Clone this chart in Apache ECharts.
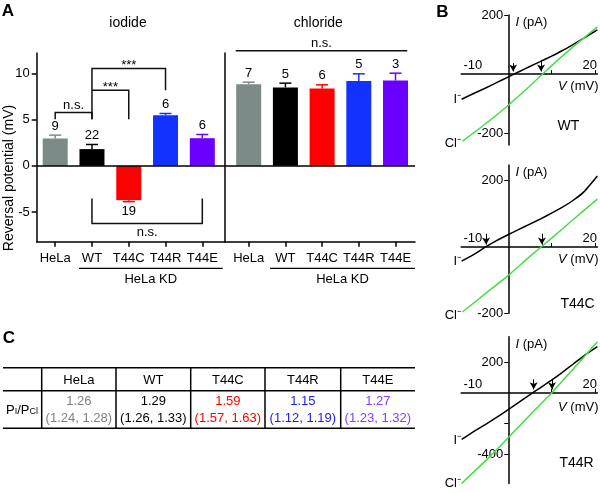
<!DOCTYPE html>
<html>
<head>
<meta charset="utf-8">
<script src="https://cdn.jsdelivr.net/npm/echarts@6/dist/echarts.min.js"></script>
<style>html,body{margin:0;padding:0;background:#fff;}#c{width:600px;height:493px;}</style>
</head>
<body>
<div id="c"></div>
<script>
// ---------- data ----------
const categories = ['HeLa', 'WT', 'T44C', 'T44R', 'T44E'];
const iodideMean = [2.96, 1.81, -3.71, 5.48, 2.99];
const iodideErr = [0.36, 0.50, 0.16, 0.18, 0.40];
const iodideN = [9, 22, 19, 6, 6];
const chlorideMean = [8.83, 8.48, 8.37, 9.16, 9.23];
const chlorideErr = [0.22, 0.46, 0.39, 0.79, 0.79];
const chlorideN = [7, 5, 6, 5, 3];
const yTicksA = [-5, 0, 5, 10];

// significance brackets: [fromIndex, toIndex, lineY, leftLegY, rightLegY, text]
const iodideBrackets = [
  [0, 1, 5.77, 5.05, 5.05, 'n.s.'],
  [1, 2, 8.18, 5.05, 5.05, '***'],
  [1, 3, 10.53, 8.18, 8.18, '***'],
  [1, 4, -6.23, -3.52, -3.52, 'n.s.']
];
const chlorideBrackets = [
  [-0.354, 4.32, 12.43, 12.43, 12.43, 'n.s.']
];

// I-V traces [V (mV), I (pA)]
const wtIodide = [[-10.5,-85],[-7.5,-64],[-5,-47],[-2.5,-29],[0,-11],[2.5,7],[5,25],[7.5,42],[10,60],[12.5,79],[15,100],[17.5,122],[20.6,150]];
const wtChloride = [[-10.3,-227],[-5,-168],[0,-108],[5,-42],[10,27],[15,92],[20.6,160]];
const t44cIodide = [[-10.5,-43],[-7.5,-21],[-5,0],[-2.5,19],[0,36],[2.5,52],[5,68],[7.5,84],[10,101],[12.5,119],[15,140],[17.5,166],[20.6,214]];
const t44cChloride = [[-10.3,-196],[-5,-140],[0,-88],[5,-30],[10,25],[15,82],[20.6,144]];
const t44rIodide = [[-10.5,-303],[-7.5,-248],[-5,-205],[-2.5,-160],[0,-113],[2.5,-64],[5,-15],[7.5,32],[10,80],[12.5,131],[15,185],[17.5,240],[20.6,299]];
const t44rChloride = [[-10.5,-589],[-5,-441],[0,-297],[5,-149],[10,-5],[15,152],[20.6,331]];
// reversal arrows [V, from I, to I]
const wtArrows = [[1.3, 37, 9], [7.7, 48, 9]];
const t44cArrows = [[-4.9, 40, 7], [7.9, 40, 7]];
const t44rArrows = [[6.0, 87, 22], [10.2, 87, 22]];
const ivYTicks = [[-200, 200], [-200, 200], [-400, -200, 200]];
const ivYLabels = [[-200, 200], [-200, 200], [-400, 200]];
const ivXLabels = [-10, 20];
const ivXTicks = [10, 20];

// table C
const tableHeads = ['HeLa', 'WT', 'T44C', 'T44R', 'T44E'];
const ratioValue = [1.26, 1.29, 1.59, 1.15, 1.27];
const ratioLow = [1.24, 1.26, 1.57, 1.12, 1.23];
const ratioHigh = [1.28, 1.33, 1.63, 1.19, 1.32];

// ---------- styles ----------
const FONT = '"Liberation Sans", Arial, Helvetica, sans-serif';
const barColors = ['#7c8a88', '#000000', '#ff0000', '#1432ff', '#6a00ff'];
const tableColors = ['#808080', '#000000', '#ff0000', '#2020ee', '#7f40ff'];
const GREEN = '#44dd44';

const chart = echarts.init(document.getElementById('c'), null, {renderer: 'canvas'});

function txt(text, x, y, extra, rot) {
  const st = Object.assign({text: text, fontSize: 13, fontFamily: FONT, fill: '#000',
    align: 'center', verticalAlign: 'middle', textAlign: 'center', textVerticalAlign: 'middle'}, extra || {});
  const e = {type: 'text', x: x, y: y, silent: true, style: st};
  if (rot) e.rotation = rot;
  return e;
}
function ln(x1, y1, x2, y2, w) {
  return {type: 'line', silent: true, shape: {x1: x1, y1: y1, x2: x2, y2: y2}, style: {stroke: '#000', lineWidth: w || 1.5}};
}

function barSeries(idx, means) {
  return {
    type: 'bar', xAxisIndex: idx, yAxisIndex: idx, barWidth: 25,
    data: means.map((v, i) => ({value: [i, v], itemStyle: {color: barColors[i]}})),
    markLine: {silent: true, symbol: 'none', label: {show: false}, animation: false,
      lineStyle: {color: '#000', width: 1.5, type: 'solid'}, data: [{yAxis: 0}]}
  };
}
function errSeries(idx, means, errs, ns) {
  return {
    type: 'custom', xAxisIndex: idx, yAxisIndex: idx, z: 5,
    encode: {x: 0, y: 1},
    data: means.map((v, i) => [i, v, errs[i], ns[i]]),
    renderItem: function (params, api) {
      const i = api.value(0), m = api.value(1), e = api.value(2), n = api.value(3);
      const end = m >= 0 ? m + e : m - e;
      const p0 = api.coord([i, m]);
      const p1 = api.coord([i, end]);
      const col = barColors[i];
      const ty = m >= 0 ? p1[1] - 9 : p1[1] + 10;
      return {type: 'group', children: [
        {type: 'line', shape: {x1: p0[0], y1: p0[1], x2: p1[0], y2: p1[1]}, style: {stroke: col, lineWidth: 1.5}},
        {type: 'line', shape: {x1: p1[0] - 6, y1: p1[1], x2: p1[0] + 6, y2: p1[1]}, style: {stroke: col, lineWidth: 1.5}},
        {type: 'text', x: p1[0], y: ty, style: {text: String(n), fontSize: 13, fontFamily: FONT, fill: '#000',
          align: 'center', verticalAlign: 'middle'}}
      ]};
    }
  };
}
function bracketSeries(idx, brackets) {
  return {
    type: 'custom', xAxisIndex: idx, yAxisIndex: idx, z: 6, clip: false,
    encode: {x: [0, 1], y: 2},
    data: brackets.map(b => b.slice(0, 5)),
    renderItem: function (params, api) {
      const b = brackets[params.dataIndex];
      const a = api.coord([b[0], b[2]]), c = api.coord([b[1], b[2]]);
      const la = api.coord([b[0], b[3]]), lc = api.coord([b[1], b[4]]);
      const st = {stroke: '#111', lineWidth: 1.5, fill: null};
      const below = b[2] < 0;
      const isStar = b[5] === '***';
      const ty = below ? a[1] + 9 : a[1] - (isStar ? 3 : 7);
      return {type: 'group', children: [
        {type: 'polyline', shape: {points: [[la[0], la[1]], [a[0], a[1]], [c[0], c[1]], [lc[0], lc[1]]]}, style: st},
        {type: 'text', x: (a[0] + c[0]) / 2, y: ty, style: {text: b[5], fontSize: 13, fontFamily: FONT, fill: '#000',
          align: 'center', verticalAlign: 'middle'}}
      ]};
    }
  };
}
function ivSeries(idx, data, color) {
  return {type: 'line', xAxisIndex: idx, yAxisIndex: idx, data: data, showSymbol: false, symbol: 'none',
    smooth: 0.15, lineStyle: {color: color, width: 1.5}, z: 3};
}
function arrowSeries(idx, arrows) {
  return {type: 'line', xAxisIndex: idx, yAxisIndex: idx, data: [], showSymbol: false,
    markLine: {silent: true, animation: false, symbol: ['none', 'arrow'], symbolSize: [6, 7], label: {show: false},
      lineStyle: {color: '#000', width: 1, type: 'solid'},
      data: arrows.map(a => [{coord: [a[0], a[1]]}, {coord: [a[0], a[2]]}])}};
}

const barTop = 53, barH = 188.7;
const grids = [
  {left: 36.7, top: barTop, width: 188.3, height: barH},
  {left: 225, top: barTop, width: 190, height: barH},
  {left: 461.2, top: 15, width: 138.5, height: 130},
  {left: 461.2, top: 165, width: 138.5, height: 148.3},
  {left: 461.2, top: 336.7, width: 138.5, height: 146.9}
];
const ivXRange = [-10.6, 20.6];
const ivYRange = [[-240, 200], [-200, 247], [-590, 364]];

const xAxes = [
  {gridIndex: 0, type: 'value', min: -0.503, max: 4.617},
  {gridIndex: 1, type: 'value', min: -0.646, max: 4.531}
].map(a => Object.assign(a, {
  position: 'bottom', splitLine: {show: false},
  axisLine: {show: true, onZero: false, lineStyle: {color: '#000', width: 1.5}},
  axisTick: {show: true, customValues: [0, 1, 2, 3, 4], length: 5, lineStyle: {color: '#000', width: 1.5}},
  axisLabel: {show: true, customValues: [0, 1, 2, 3, 4], formatter: v => categories[Math.round(v)],
    margin: 10, fontSize: 13, color: '#000', fontFamily: FONT}
}));
const yAxes = [
  {gridIndex: 0, type: 'value', min: -8.2, max: 12.2, splitLine: {show: false},
    axisLine: {show: true, onZero: false, lineStyle: {color: '#000', width: 1.5}},
    axisTick: {show: true, customValues: yTicksA, length: 5, lineStyle: {color: '#000', width: 1.5}},
    axisLabel: {show: true, customValues: yTicksA, margin: 7, fontSize: 13, color: '#000', fontFamily: FONT}},
  {gridIndex: 1, type: 'value', min: -8.2, max: 12.2, splitLine: {show: false},
    axisLine: {show: true, onZero: false, lineStyle: {color: '#000', width: 1.5}},
    axisTick: {show: false}, axisLabel: {show: false}}
];
for (let k = 0; k < 3; k++) {
  const gr = grids[2 + k];
  const yr = ivYRange[k];
  // place axes so that they cross at the origin (V = 0, I = 0)
  const xOff = -gr.height * (0 - yr[0]) / (yr[1] - yr[0]);
  const yOff = -gr.width * (0 - ivXRange[0]) / (ivXRange[1] - ivXRange[0]);
  xAxes.push({gridIndex: 2 + k, type: 'value', min: ivXRange[0], max: ivXRange[1], splitLine: {show: false},
    position: 'bottom', offset: xOff,
    axisLine: {show: true, onZero: false, lineStyle: {color: '#000', width: 1.5}},
    axisTick: {show: true, inside: true, customValues: ivXTicks, length: 4, lineStyle: {color: '#000', width: 1}},
    axisLabel: {show: true, inside: true, customValues: ivXLabels, margin: 2, fontSize: 13, color: '#000', fontFamily: FONT,
      formatter: v => (v < 0 ? '{a|' + v + '}' : '{b|' + v + '}'),
      rich: {a: {fontSize: 13, fontFamily: FONT, color: '#000', padding: [0, 0, 0, 18]},
             b: {fontSize: 13, fontFamily: FONT, color: '#000', padding: [0, 10, 0, 0]}}}
  });
  yAxes.push({gridIndex: 2 + k, type: 'value', min: yr[0], max: yr[1], splitLine: {show: false},
    position: 'left', offset: yOff,
    axisLine: {show: true, onZero: false, lineStyle: {color: '#000', width: 1.5}},
    axisTick: {show: true, customValues: ivYTicks[k], length: 4, lineStyle: {color: '#000', width: 1}},
    axisLabel: {show: true, customValues: ivYLabels[k], margin: 5, fontSize: 13, color: '#000', fontFamily: FONT}});
}

const series = [
  barSeries(0, iodideMean), errSeries(0, iodideMean, iodideErr, iodideN), bracketSeries(0, iodideBrackets),
  barSeries(1, chlorideMean), errSeries(1, chlorideMean, chlorideErr, chlorideN), bracketSeries(1, chlorideBrackets),
  ivSeries(2, wtIodide, '#000'), ivSeries(2, wtChloride, GREEN), arrowSeries(2, wtArrows),
  ivSeries(3, t44cIodide, '#000'), ivSeries(3, t44cChloride, GREEN), arrowSeries(3, t44cArrows),
  ivSeries(4, t44rIodide, '#000'), ivSeries(4, t44rChloride, GREEN), arrowSeries(4, t44rArrows)
];

// ---------- graphic annotations ----------
const g = [];
g.push(txt('A', 8, 11, {fontSize: 17, fontWeight: 'bold'}));
g.push(txt('B', 442.5, 12, {fontSize: 17, fontWeight: 'bold'}));
g.push(txt('C', 9, 338.5, {fontSize: 17, fontWeight: 'bold'}));
g.push(txt('iodide', 128, 22.7, {fontSize: 14}));
g.push(txt('chloride', 318.3, 22.7, {fontSize: 14}));
g.push(txt('Reversal potential (mV)', 9, 178, {fontSize: 14}, Math.PI / 2));
g.push(ln(79, 268.3, 222.7, 268.3, 1.2));
g.push(ln(270, 268.3, 415, 268.3, 1.2));
g.push(txt('HeLa KD', 150.8, 279.5));
g.push(txt('HeLa KD', 342.5, 279.5));

const rI = {i: {fontStyle: 'italic', fontSize: 13, fontFamily: FONT, fill: '#000'}, n: {fontSize: 13, fontFamily: FONT, fill: '#000'}};
const ivAnn = [
  {top: 22.3, vy: 86.7, iy: 99.3, cy: 143.3, name: 'WT', nx: 568.5, ny: 126.5},
  {top: 172.3, vy: 259.3, iy: 261.7, cy: 315, name: 'T44C', nx: 577.5, ny: 304.5},
  {top: 344, vy: 407, iy: 440, cy: 483.3, name: 'T44R', nx: 576.5, ny: 463.3}
];
ivAnn.forEach(a => {
  g.push(txt('{i|I}{n| (pA)}', 515.5, a.top, {align: 'left', textAlign: 'left', rich: rI}));
  g.push(txt('{i|V}{n| (mV)}', 598.5, a.vy, {align: 'right', textAlign: 'right', rich: rI}));
  g.push(txt('I\u207B', 461, a.iy, {align: 'right', textAlign: 'right'}));
  g.push(txt('Cl\u207B', 461, a.cy, {align: 'right', textAlign: 'right'}));
  g.push(txt(a.name, a.nx, a.ny, {fontSize: 14}));
});

// table
const colX = [3, 41.7, 116, 190.7, 265, 340.7, 415];
const tTop = 367.7, tMid = 390.7, tBot = 428.3;
g.push(ln(3, tTop, 415, tTop));
g.push(ln(3, tMid, 415, tMid));
g.push(ln(3, tBot, 415, tBot));
for (let k = 1; k <= 5; k++) g.push(ln(colX[k], tTop, colX[k], tBot));
tableHeads.forEach((h, k) => {
  const cx = (colX[k + 1] + colX[k + 2]) / 2;
  g.push(txt(h, cx, 380.7));
  g.push(txt(ratioValue[k].toFixed(2), cx, 401.7, {fill: tableColors[k]}));
  g.push(txt('(' + ratioLow[k].toFixed(2) + ', ' + ratioHigh[k].toFixed(2) + ')', cx, 418.3, {fill: tableColors[k]}));
});
g.push(txt('{p|P}{s|I}{p|/P}{s|Cl}', 22, 410, {rich: {
  p: {fontSize: 13, fontFamily: FONT, fill: '#000', verticalAlign: 'bottom'},
  s: {fontSize: 9, fontFamily: FONT, fill: '#000', verticalAlign: 'bottom'}}}));

chart.setOption({
  animation: false,
  backgroundColor: '#fff',
  textStyle: {fontFamily: FONT},
  grid: grids,
  xAxis: xAxes,
  yAxis: yAxes,
  series: series,
  graphic: g
});
</script>
</body>
</html>
